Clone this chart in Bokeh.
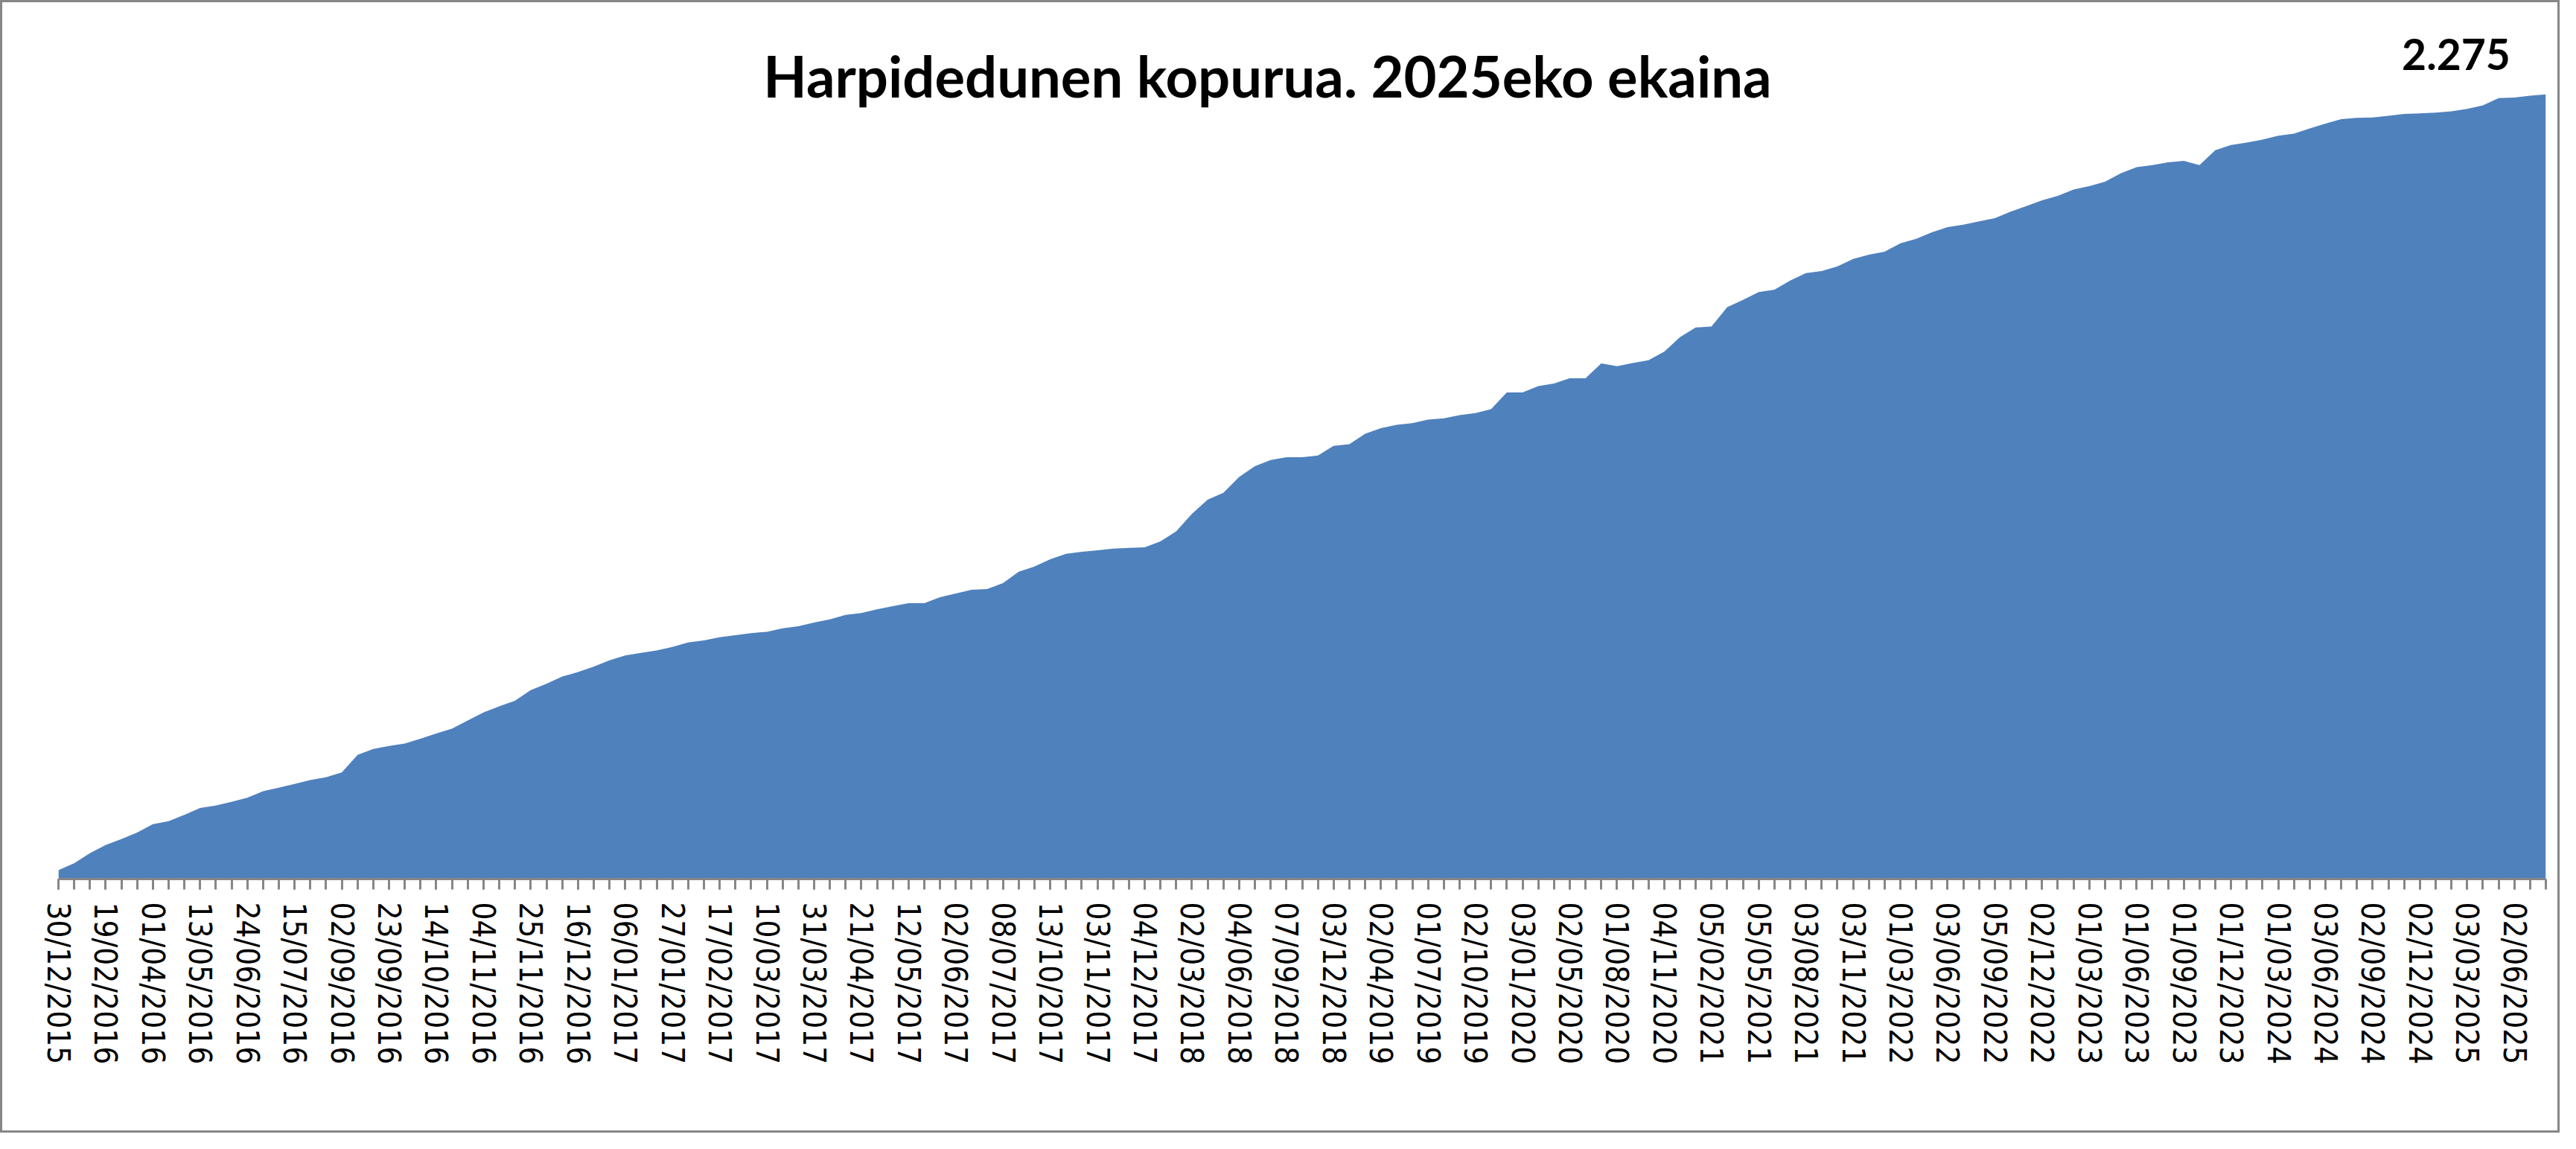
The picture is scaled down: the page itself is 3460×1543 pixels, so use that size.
from bokeh.plotting import figure
from bokeh.models import Range1d, FixedTicker, Label, ColumnDataSource
from bokeh.embed import file_html
from bokeh.resources import INLINE

# ---------------- data ----------------
title_text = "Harpidedunen kopurua. 2025eko ekaina"

# labels shown on the category axis (every 3rd data point)
tick_labels = [
    "30/12/2015", "19/02/2016", "01/04/2016", "13/05/2016", "24/06/2016", "15/07/2016",
    "02/09/2016", "23/09/2016", "14/10/2016", "04/11/2016", "25/11/2016", "16/12/2016",
    "06/01/2017", "27/01/2017", "17/02/2017", "10/03/2017", "31/03/2017", "21/04/2017",
    "12/05/2017", "02/06/2017", "08/07/2017", "13/10/2017", "03/11/2017", "04/12/2017",
    "02/03/2018", "04/06/2018", "07/09/2018", "03/12/2018", "02/04/2019", "01/07/2019",
    "02/10/2019", "03/01/2020", "02/05/2020", "01/08/2020", "04/11/2020", "05/02/2021",
    "05/05/2021", "03/08/2021", "03/11/2021", "01/03/2022", "03/06/2022", "05/09/2022",
    "02/12/2022", "01/03/2023", "01/06/2023", "01/09/2023", "01/12/2023", "01/03/2024",
    "03/06/2024", "02/09/2024", "02/12/2024", "03/03/2025", "02/06/2025",
]
label_step = 3

subscribers = [
    26, 46, 75, 99, 116, 135, 159, 168, 186, 206,
    213, 224, 236, 255, 265, 276, 287, 295, 309, 360,
    377, 386, 393, 407, 422, 436, 460, 483, 501, 517,
    548, 566, 587, 600, 616, 634, 648, 656, 663, 673,
    686, 692, 701, 707, 713, 717, 727, 733, 744, 753,
    766, 771, 782, 791, 800, 800, 817, 828, 839, 841,
    858, 891, 906, 927, 943, 949, 953, 958, 960, 962,
    979, 1008, 1059, 1100, 1120, 1166, 1197, 1215, 1223, 1223,
    1228, 1256, 1261, 1291, 1307, 1317, 1322, 1332, 1336, 1345,
    1351, 1362, 1411, 1411, 1429, 1437, 1452, 1452, 1495, 1487,
    1496, 1504, 1529, 1571, 1599, 1602, 1658, 1679, 1702, 1709,
    1735, 1757, 1763, 1776, 1798, 1810, 1819, 1843, 1856, 1875,
    1890, 1897, 1907, 1916, 1935, 1951, 1968, 1981, 1999, 2009,
    2022, 2046, 2064, 2070, 2078, 2082, 2070, 2113, 2128, 2135,
    2144, 2155, 2161, 2176, 2190, 2203, 2207, 2208, 2213, 2218,
    2220, 2222, 2226, 2233, 2243, 2264, 2266, 2271, 2275,
]

# ---------------- chart ----------------
x = list(range(len(subscribers)))
source = ColumnDataSource(data=dict(x=x, y=subscribers, base=[0] * len(x)))

p = figure(
    width=3438, height=1521,
    output_backend="svg", toolbar_location=None,
    x_range=Range1d(0, len(subscribers) - 1), y_range=Range1d(0, 2500),
    y_axis_location=None,
    min_border_left=75, min_border_right=22, min_border_top=19, min_border_bottom=344,
    background_fill_color="white", border_fill_color="white",
    outline_line_color=None,
)
p.styles = {"border": "3px solid #868686"}

p.varea(x="x", y1="base", y2="y", source=source, fill_color="#4F81BD")

p.xgrid.visible = False
p.ygrid.visible = False

xa = p.xaxis[0]
xa.ticker = FixedTicker(ticks=list(range(0, len(subscribers), label_step)), minor_ticks=x)
xa.major_label_overrides = {i * label_step: lab for i, lab in enumerate(tick_labels)}
xa.major_label_orientation = "vertical"
xa.major_label_text_font = "DejaVu Sans Condensed, DejaVu Sans"
xa.major_label_text_font_size = "42px"
xa.major_label_text_color = "black"
xa.major_label_standoff = 17
xa.axis_line_color = "#868686"
xa.axis_line_width = 3
xa.major_tick_line_color = "#868686"
xa.major_tick_line_width = 3
xa.major_tick_out = 14
xa.major_tick_in = 0
xa.minor_tick_line_color = "#868686"
xa.minor_tick_line_width = 3
xa.minor_tick_out = 14
xa.minor_tick_in = 0

title = Label(x=76.8, y=2329, text=title_text, text_font="Lato", text_font_style="bold",
              text_font_size="76px", text_color="black", text_align="center",
              text_baseline="alphabetic")
p.add_layout(title)

last_label = Label(x=152.3, y=2391, text=f"{subscribers[-1]:,}".replace(",", "."),
                   text_font="Lato", text_font_style="bold", text_font_size="57px",
                   text_color="black", text_align="center", text_baseline="alphabetic")
p.add_layout(last_label)

open("out.html", "w").write(file_html(p, INLINE))
